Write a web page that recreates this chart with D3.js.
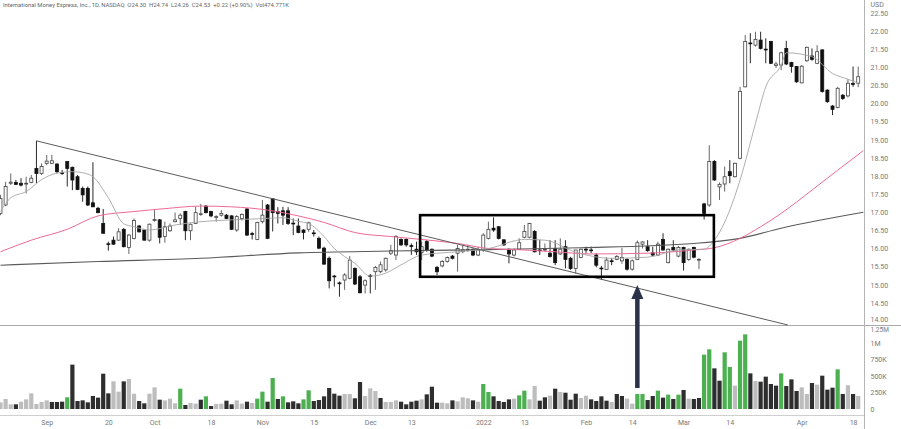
<!DOCTYPE html>
<html><head><meta charset="utf-8">
<script src="https://cdn.jsdelivr.net/npm/d3@7"></script>
<style>html,body{margin:0;padding:0;background:#fff;}svg{display:block;}</style>
</head><body>
<svg id="c" width="901" height="429"></svg>
<script>
// ---- DATA (bar index 0 = 1 Sep 2021, negative = late Aug 2021) ----
const firstIdx = -9;
const open  = [16.97,17.20,17.80,17.82,17.80,17.78,17.82,18.21,18.07,18.35,18.35,18.33,18.09,18.40,18.24,17.98,17.66,17.66,17.26,17.11,16.69,16.13,16.23,16.23,16.53,16.03,16.28,16.62,16.51,16.23,16.77,16.79,16.33,16.49,16.74,16.83,17.02,16.49,16.69,16.95,17.17,17.02,16.88,16.92,16.92,16.90,16.51,16.83,17.09,16.41,16.25,16.74,17.20,17.37,17.02,17.04,17.04,16.70,16.62,16.51,16.53,16.43,16.28,16.01,15.73,15.24,15.05,15.13,15.18,15.45,15.22,14.99,15.25,15.36,15.36,15.41,15.87,15.82,16.25,16.25,16.08,15.98,15.89,16.19,15.98,15.48,15.52,15.64,15.79,15.87,15.91,15.96,15.98,15.82,15.98,16.28,16.56,16.60,16.24,15.98,15.82,15.98,16.31,16.31,16.47,15.96,15.96,15.87,16.00,15.85,16.05,15.73,15.45,15.75,15.98,15.96,15.82,15.46,15.42,15.66,15.70,15.66,15.70,15.43,15.70,16.12,16.05,15.88,15.82,16.25,15.61,16.03,15.79,16.03,15.70,16.03,15.70,17.23,17.20,18.40,17.70,17.78,18.12,17.98,18.49,20.46,21.67,21.61,21.75,21.50,21.71,21.05,21.06,21.52,21.13,21.02,20.57,21.18,21.31,21.11,21.48,20.37,19.93,19.89,20.23,20.21,20.55,20.56];
const high  = [17.48,17.84,18.07,17.89,17.94,17.98,18.03,18.97,18.35,18.58,18.58,18.35,18.17,18.40,18.26,18.03,17.71,17.71,18.38,17.15,17.09,16.19,16.33,16.56,16.56,16.40,16.83,16.65,16.53,16.69,17.06,16.81,16.74,16.69,16.99,16.97,17.04,16.69,17.15,17.23,17.20,17.04,16.92,17.06,16.95,16.92,16.92,16.97,17.11,16.46,16.74,17.34,17.23,17.38,17.14,17.15,17.14,16.83,16.83,16.53,16.74,16.51,16.33,16.05,15.78,15.27,15.09,15.32,15.79,15.48,15.27,15.15,15.30,15.52,15.64,15.75,16.10,16.37,16.28,16.28,16.14,16.19,16.19,16.24,16.00,15.52,15.68,15.78,15.82,16.10,16.10,16.10,16.00,16.05,16.42,16.74,16.86,16.62,16.25,16.00,16.00,16.28,16.65,16.71,16.51,16.24,16.14,16.23,16.23,16.28,16.23,15.77,15.79,16.00,16.05,16.05,15.87,15.52,15.76,15.73,15.82,16.02,15.73,15.70,16.22,16.20,16.23,16.05,16.19,16.42,16.00,16.23,16.07,16.05,16.00,16.05,15.73,17.26,18.85,18.44,17.82,18.26,18.44,18.37,20.46,21.89,21.94,21.98,21.98,21.80,21.73,21.15,21.43,21.73,21.15,21.03,21.06,21.57,21.52,21.61,21.49,20.39,19.96,20.46,20.26,20.67,21.02,21.02];
const low   = [16.92,17.17,17.75,17.75,17.71,17.52,17.80,17.80,18.03,18.30,18.33,18.07,18.03,17.71,17.61,17.61,17.29,17.17,17.15,16.97,16.42,15.94,16.10,16.22,16.03,15.85,16.25,16.44,16.22,16.19,16.74,16.14,16.16,16.46,16.72,16.65,16.23,16.23,16.68,16.90,16.97,16.86,16.74,16.88,16.81,16.51,16.46,16.77,16.35,16.25,16.23,16.69,16.26,16.47,16.69,16.65,16.65,16.37,16.42,16.25,16.46,16.33,15.98,15.55,14.90,14.95,14.67,14.86,15.15,14.99,14.76,14.76,14.76,14.86,15.32,15.36,15.82,15.68,16.07,16.05,15.82,15.82,15.68,15.91,15.76,15.27,15.48,15.61,15.70,15.36,15.87,15.91,15.79,15.79,15.91,16.25,16.46,16.25,16.07,15.59,15.78,15.96,16.28,16.28,15.89,15.82,15.91,15.75,15.54,15.82,15.45,15.41,15.31,15.73,15.87,15.87,15.48,15.13,15.41,15.54,15.68,15.58,15.39,15.39,15.68,16.00,15.91,15.79,15.79,15.94,15.59,15.91,15.76,15.39,15.66,15.73,15.43,16.80,17.15,17.87,17.34,17.57,17.80,17.96,18.46,20.45,21.11,21.57,21.49,21.11,21.09,20.98,20.92,21.06,20.85,20.57,20.56,21.15,21.18,21.09,20.30,20.02,19.68,19.87,20.10,20.17,20.46,20.45];
const close = [17.38,17.71,17.83,17.77,17.75,17.80,17.94,18.07,18.26,18.41,18.42,18.12,18.07,18.21,17.89,17.63,17.48,17.20,17.15,16.99,16.42,16.11,16.12,16.46,16.05,16.37,16.77,16.46,16.23,16.67,16.80,16.31,16.60,16.62,16.79,16.92,16.49,16.67,16.99,16.96,16.99,16.90,16.88,16.97,16.83,16.53,16.88,16.94,16.37,16.40,16.72,16.92,16.28,16.99,16.97,16.92,16.69,16.68,16.44,16.44,16.71,16.41,16.01,15.57,15.11,15.22,15.04,15.27,15.68,15.02,14.78,15.11,15.23,15.48,15.55,15.73,15.94,16.33,16.10,16.10,16.07,15.91,16.05,15.96,15.79,15.36,15.64,15.75,15.73,16.00,15.96,15.98,15.82,15.96,16.37,16.53,16.51,16.28,16.10,15.85,15.96,16.16,16.47,16.69,15.91,15.95,15.98,15.78,15.61,15.98,15.70,15.45,15.96,15.98,15.97,15.95,15.54,15.45,15.68,15.64,15.78,15.75,15.43,15.66,16.16,16.18,15.94,15.82,16.12,15.96,15.98,15.96,16.03,15.61,15.98,15.76,15.70,16.97,18.40,17.89,17.77,17.98,18.01,18.35,20.33,21.71,21.66,21.77,21.52,21.49,21.11,21.09,21.40,21.09,21.02,20.60,21.03,21.55,21.22,21.43,20.33,20.05,19.84,20.42,20.14,20.56,20.54,20.74];
const volumeK = [101,152,71,71,111,146,237,76,106,131,106,106,111,177,672,121,131,101,197,172,535,237,419,263,419,455,232,121,86,232,328,141,131,157,86,308,61,91,81,141,192,45,76,81,126,71,131,81,111,91,157,263,111,470,152,192,101,116,86,146,283,121,136,192,318,232,202,227,227,162,409,197,313,273,167,106,106,131,111,71,111,126,146,222,338,96,96,86,
  131,116,177,162,131,111,379,258,192,121,106,146,157,207,278,146,348,126,177,202,308,258,247,141,232,167,202,146,121,192,126,106,227,197,157,81,227,227,136,197,278,172,217,152,217,288,157,152,167,823,904,616,429,859,636,354,1035,1131,540,424,414,490,379,354,540,348,449,273,328,227,394,369,505,293,323,601,227,359,227,197];
// u = up (gray), k = down (black), g = up on heavy volume (green)
const volumeState = ("uuukuuuuuu"+"kkkgkkkkkk"+"kkuukuukku"+"ukuuugkuuk"+"gkuukkuuku"+"ggkgkgkkkg"+"gkkkkkkuuk"+"kuuukuuukk"+"kkukkkuu"+
  "kuuukuggkk"+"kkugguukku"+"kukkkuukkk"+"kukkuuggkk"+"gkgkgkukkg"+"gkkgguggku"+"kkkkgkkkuu"+"kukkkgkuku").split("");
const shortMA = [[-9,17.02],[-7,17.40],[-4,17.57],[-1,17.90],[2,18.08],[5,18.12],[7,18.09],[9,17.98],[12,17.40],[15,16.68],[17,16.60],[20,16.51],[25,16.65],[30,16.74],[36,16.79],[43,16.83],[46,16.85],[49,16.75],[51,16.69],[54,16.33],[56,16.00],[58,15.78],[60,15.59],[63,15.24],[66,15.32],[69,15.55],[73,15.82],[80,15.91],[86,16.00],[93,16.25],[97,16.23],[103,15.90],[110,15.73],[117,15.76],[123,15.96],[128,15.98],[130,16.23],[133,17.06],[135,17.89],[138,19.45],[140,20.46],[143,21.06],[144,21.40],[149,21.29],[153,20.83],[156,20.67],[158,20.56]];
const midMA = [[-9,15.91],[-3,16.23],[4,16.53],[10,16.90],[17,17.02],[23,17.10],[30,17.17],[36,17.15],[43,17.06],[49,16.90],[54,16.72],[60,16.44],[67,16.33],[73,16.25],[80,16.14],[86,16.00],[93,15.96],[99,15.91],[106,15.85],[117,15.87],[126,15.96],[130,16.02],[135,16.28],[139,16.60],[143,16.97],[149,17.61],[154,18.16],[159,18.70]];
const longMA = [[-9,15.54],[10,15.64],[30,15.73],[49,15.88],[67,15.93],[86,15.97],[104,16.02],[126,16.14],[135,16.28],[143,16.56],[159,17.00]];
const trendLine = [[-2,18.97],[144.3,13.89]];
const rangeBox = {x0:72.7, x1:129.9, p0:15.22, p1:16.92};
const arrowAt = {idx:115, volK:318, price:14.99};
const priceTicks = [14,14.5,15,15.5,16,16.5,17,17.5,18,18.5,19,19.5,20,20.5,21,21.5,22,22.5];
const volTicks = [0,250,500,750,1000,1250];
const volTickLabels = ["0","250K","500K","750K","1M","1.25M"];
const xTickIdx = [0,12,21,32,42,52,63,71,85,93,105,114,124,133,147,157];
const xTickLabels = ["Sep","20","Oct","18","Nov","15","Dec","13","2022","13","Feb","14","Mar","14","Apr","18"];
const title = "International Money Express, Inc., 1D, NASDAQ  O24.30  H24.74  L24.26  C24.53  +0.22 (+0.90%)  Vol474.771K";

// ---- CHART ----
const svg = d3.select("#c");
const axisX = 864.5;
const x = d3.scaleLinear().domain([-9, 158]).range([0.48, 858.2]);
const y = d3.scaleLinear().domain([14, 22.5]).range([321, 12.9]);
const yv = d3.scaleLinear().domain([0, 1250]).range([409, 326.5]);
const font = "Roboto, 'Liberation Sans', sans-serif";
const bars = open.map((o,i)=>({i:i+firstIdx,o,h:high[i],l:low[i],c:close[i],v:volumeK[i],s:volumeState[i]}));

svg.append("defs").append("clipPath").attr("id","pp").append("rect").attr("x",0).attr("y",0).attr("width",axisX).attr("height",325);

// volume
const vcol = {u:"#bdbdbd",k:"#2e2e2e",g:"#4caf50"};
svg.append("g").selectAll("rect").data(bars).join("rect")
  .attr("x",d=>x(d.i)-2.1).attr("width",4.2)
  .attr("y",d=>yv(d.v)).attr("height",d=>yv(0)-yv(d.v))
  .attr("fill",d=>vcol[d.s]);

// grid lines / separators
svg.append("line").attr("x1",0).attr("x2",901).attr("y1",325.5).attr("y2",325.5).attr("stroke","#a8a8a8").attr("stroke-width",1.2);
svg.append("line").attr("x1",0).attr("x2",axisX).attr("y1",415.5).attr("y2",415.5).attr("stroke","#cfcfcf");
svg.append("line").attr("x1",axisX).attr("x2",axisX).attr("y1",0).attr("y2",429).attr("stroke","#b5b5b5");

const pane = svg.append("g").attr("clip-path","url(#pp)");
// candles
const cg = pane.append("g");
cg.selectAll("line").data(bars).join("line")
  .attr("x1",d=>x(d.i)).attr("x2",d=>x(d.i)).attr("y1",d=>y(d.h)).attr("y2",d=>y(d.l))
  .attr("stroke",d=>d.c>=d.o?"#555":"#111").attr("stroke-width",0.9);
cg.selectAll("rect").data(bars).join("rect")
  .attr("x",d=>x(d.i)-1.5).attr("width",3)
  .attr("y",d=>y(Math.max(d.o,d.c)))
  .attr("height",d=>Math.max(0.8,Math.abs(y(d.o)-y(d.c))))
  .attr("fill",d=>d.c>=d.o?"#fff":"#111")
  .attr("stroke",d=>d.c>=d.o?"#444":"#111").attr("stroke-width",0.8);

// moving averages
const line = d3.line().x(d=>x(d[0])).y(d=>y(d[1])).curve(d3.curveMonotoneX);
pane.append("path").attr("d",line(longMA)).attr("fill","none").attr("stroke","#5a5a5a").attr("stroke-width",1.1);
pane.append("path").attr("d",line(midMA)).attr("fill","none").attr("stroke","#ee6a93").attr("stroke-width",1);
pane.append("path").attr("d",line(shortMA)).attr("fill","none").attr("stroke","#a6a6a6").attr("stroke-width",0.9);

// trend line
svg.append("line").attr("x1",x(trendLine[0][0])).attr("y1",y(trendLine[0][1]))
  .attr("x2",x(trendLine[1][0])).attr("y2",y(trendLine[1][1]))
  .attr("stroke","#5c5c5c").attr("stroke-width",1);

// range box
svg.append("rect").attr("x",x(rangeBox.x0)).attr("y",y(rangeBox.p1))
  .attr("width",x(rangeBox.x1)-x(rangeBox.x0)).attr("height",y(rangeBox.p0)-y(rangeBox.p1))
  .attr("fill","none").attr("stroke","#000").attr("stroke-width",2.6);

// arrow
const ax = x(arrowAt.idx), tipY = y(arrowAt.price), baseY = yv(arrowAt.volK);
svg.append("line").attr("x1",ax).attr("x2",ax).attr("y1",tipY+12).attr("y2",baseY)
  .attr("stroke","#2a3349").attr("stroke-width",4.5);
svg.append("path").attr("d",`M${ax},${tipY} L${ax+6},${tipY+14} L${ax-6},${tipY+14} Z`).attr("fill","#2a3349");

// axes
const pa = svg.append("g").attr("transform",`translate(${axisX},0)`)
  .call(d3.axisRight(y).tickValues(priceTicks).tickFormat(d3.format(".2f")).tickSize(0).tickPadding(6));
const va = svg.append("g").attr("transform",`translate(${axisX},0)`)
  .call(d3.axisRight(yv).tickValues(volTicks).tickFormat((d,i)=>volTickLabels[i]).tickSize(0).tickPadding(6));
const xa = svg.append("g").attr("transform","translate(0,416)")
  .call(d3.axisBottom(x).tickValues(xTickIdx).tickFormat((d,i)=>xTickLabels[i]).tickSize(0).tickPadding(4));
[pa,va,xa].forEach(g=>{g.select(".domain").remove();
  g.selectAll("text").attr("fill","#787878").attr("font-size","7px").attr("font-family",font);});
// keep the 14.00 and 1.25M labels from colliding at the pane border
pa.selectAll(".tick").filter(d=>d===14).select("text").attr("dy","0.05em");
va.selectAll(".tick").filter(d=>d===1250).select("text").attr("dy","0.75em").attr("font-size","6.5px");

svg.append("text").attr("x",870.5).attr("y",7).text("USD").attr("fill","#787878").attr("font-size","7px").attr("font-family",font);
svg.append("text").attr("x",3).attr("y",7).text(title).attr("fill","#666").attr("font-size","6.2px")
  .attr("font-family",font).attr("textLength",286).attr("lengthAdjust","spacingAndGlyphs").style("white-space","pre");
</script>
</body></html>
